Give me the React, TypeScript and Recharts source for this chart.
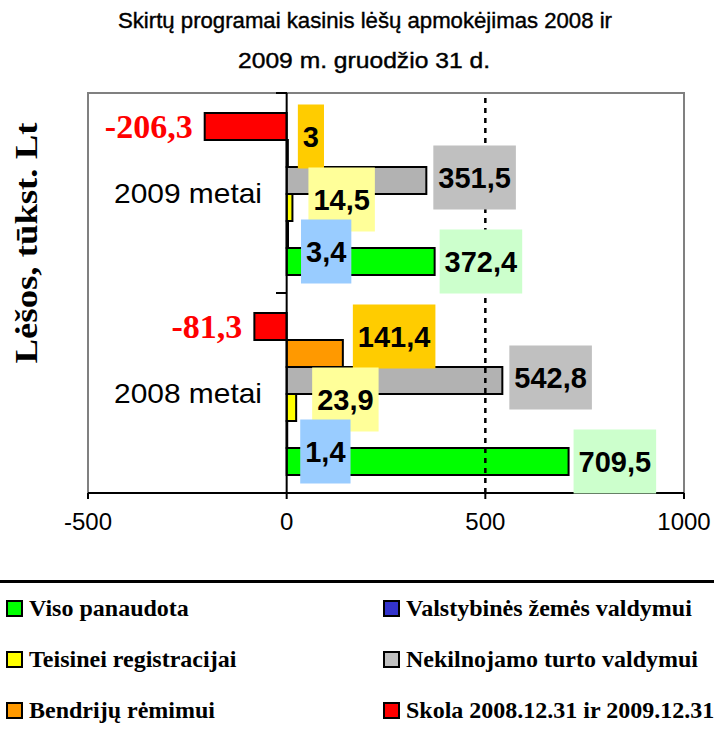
import React from 'react';
import {
  BarChart,
  Bar,
  XAxis,
  YAxis,
  ReferenceLine,
  ReferenceArea,
  LabelList,
} from 'recharts';

// categories, top to bottom
const categories = ['2009 metai', '2008 metai'];

// series values (tūkst. Lt), same order as categories
const visoPanaudota = [372.4, 709.5];
const valstybinesZemes = [3.4, 1.4];
const teisineiRegistracijai = [14.5, 23.9];
const nekilnojamoTurto = [351.5, 542.8];
const bendrijuRemimui = [3, 141.4];
const skola = [-206.3, -81.3];

const xTicks = [-500, 0, 500, 1000];

const chartTitle = [
  'Skirtų programai kasinis lėšų apmokėjimas 2008 ir',
  '2009 m. gruodžio 31 d.',
];
const yTitle = 'Lėšos, tūkst. Lt';

const data = categories.map((category, i) => ({
  category,
  viso: visoPanaudota[i],
  valst: valstybinesZemes[i],
  teis: teisineiRegistracijai[i],
  nekiln: nekilnojamoTurto[i],
  bendr: bendrijuRemimui[i],
  skola: skola[i],
}));

// legend order (as in the original workbook)
const legendItems = [
  { key: 'viso', name: 'Viso panaudota', color: '#00FF00' },
  { key: 'valst', name: 'Valstybinės žemės valdymui', color: '#3333CC' },
  { key: 'teis', name: 'Teisinei registracijai', color: '#FFFF00' },
  { key: 'nekiln', name: 'Nekilnojamo turto valdymui', color: '#C0C0C0' },
  { key: 'bendr', name: 'Bendrijų rėmimui', color: '#FF9900' },
  { key: 'skola', name: 'Skola 2008.12.31 ir 2009.12.31', color: '#FF0000' },
];

// bar order inside a band, top to bottom, with label styling
const barSeries = [
  { key: 'skola', fill: '#FF0000', labelBg: 'none', dx: -12, dy: 0 },
  { key: 'bendr', fill: '#FF9900', labelBg: '#FFCC00', dx: 10, dy: -17 },
  { key: 'nekiln', fill: '#B2B2B2', labelBg: '#C0C0C0', dx: 7, dy: -3 },
  { key: 'teis', fill: '#FFFF00', labelBg: '#FFFF99', dx: 16, dy: -8 },
  { key: 'valst', fill: '#3333CC', labelBg: '#99CCFF', dx: 13, dy: 17 },
  { key: 'viso', fill: '#00FF00', labelBg: '#CCFFCC', dx: 5, dy: 0 },
];

const SANS = '"Liberation Sans", Arial, sans-serif';
const SERIF = '"Liberation Serif", "Times New Roman", serif';

const fmt = (v: number) => String(v).replace('.', ',');

const textWidth = (s: string, size: number) =>
  s.split('').reduce((w, c) => w + (c === ',' ? 0.278 : c === '-' ? 0.333 : 0.556), 0) * size;

const makeLabel = (cfg: { labelBg: string; dx: number; dy: number }) => (props: any) => {
  const x = Number(props.x);
  const y = Number(props.y);
  const width = Number(props.width);
  const height = Number(props.height);
  const v = Number(props.value);
  const text = fmt(v);
  const cy = y + height / 2 + cfg.dy;
  if (v < 0) {
    const left = Math.min(x, x + width);
    return (
      <text
        x={left + cfg.dx}
        y={cy}
        dy='0.34em'
        textAnchor='end'
        fill='#FF0000'
        fontFamily={SERIF}
        fontWeight='bold'
        fontSize={34}
      >
        {text}
      </text>
    );
  }
  const end = Math.max(x, x + width);
  const w = textWidth(text, 29) + 10;
  const bx = end + cfg.dx;
  return (
    <g>
      <rect x={bx} y={cy - 32} width={w} height={64} fill={cfg.labelBg} />
      <text
        x={bx + w / 2}
        y={cy}
        dy='0.36em'
        textAnchor='middle'
        fill='#000'
        fontFamily={SANS}
        fontWeight='bold'
        fontSize={29}
      >
        {text}
      </text>
    </g>
  );
};

const CategoryTick = (props: any) => {
  const { x, y, payload, index } = props;
  return (
    <g>
      <text
        x={x + 174}
        y={y}
        dy='0.36em'
        textAnchor='end'
        fill='#000'
        fontFamily={SANS}
        fontSize={28}
        textLength={148}
        lengthAdjust='spacingAndGlyphs'
      >
        {payload.value}
      </text>
      <line x1={x + 188} x2={x + 199} y1={y - 100} y2={y - 100} stroke='#000' strokeWidth={2} />
      {index === categories.length - 1 && (
        <line x1={x + 188} x2={x + 199} y1={y + 100} y2={y + 100} stroke='#000' strokeWidth={2} />
      )}
    </g>
  );
};

const chartProps = {
  width: 714,
  height: 540,
  data,
  layout: 'vertical' as const,
  margin: { top: 93, right: 30, bottom: 0, left: 0 },
  barCategoryGap: '10%',
  barGap: 0,
};

const BarsChart = () => (
  <BarChart {...chartProps}>
    <ReferenceArea x1={-500} x2={1000} fill='none' stroke='#808080' strokeWidth={2} ifOverflow='visible' />
    <ReferenceLine x={500} stroke='#000' strokeWidth={2.5} strokeDasharray='5 5' />
    <XAxis
      type='number'
      domain={[-500, 1000]}
      ticks={xTicks}
      allowDataOverflow
      height={47}
      tickSize={6}
      tickMargin={14}
      axisLine={{ stroke: '#000', strokeWidth: 2 }}
      tickLine={{ stroke: '#000', strokeWidth: 2 }}
      tick={{ fill: '#000', fontSize: 24, fontFamily: SANS }}
    />
    <YAxis
      type='category'
      dataKey='category'
      width={88}
      tickSize={0}
      tickMargin={0}
      axisLine={false}
      tickLine={false}
      tick={<CategoryTick />}
    />
    <ReferenceLine x={0} stroke='#000' strokeWidth={2} />
    {barSeries.map((s) => (
      <Bar key={s.key} dataKey={s.key} fill={s.fill} stroke='#000' strokeWidth={2} isAnimationActive={false} />
    ))}
  </BarChart>
);

const LabelsChart = () => (
  <BarChart {...chartProps}>
    <XAxis type='number' domain={[-500, 1000]} ticks={xTicks} allowDataOverflow height={47} tick={false} axisLine={false} tickLine={false} />
    <YAxis type='category' dataKey='category' width={88} tick={false} axisLine={false} tickLine={false} />
    {barSeries.map((s) => (
      <Bar key={s.key} dataKey={s.key} fill='transparent' stroke='none' isAnimationActive={false}>
        <LabelList dataKey={s.key} content={makeLabel(s)} />
      </Bar>
    ))}
  </BarChart>
);

export default function App() {
  return (
    <div style={{ position: 'absolute', left: 0, top: 0, width: 714, height: 736, background: '#fff' }}>
      <svg width={714} height={540} style={{ position: 'absolute', left: 0, top: 0 }}>
        <text
          x={365}
          y={28}
          textAnchor='middle'
          fontFamily={SANS}
          fontSize={22}
          textLength={494}
          lengthAdjust='spacingAndGlyphs'
          stroke='#000'
          strokeWidth={0.4}
          fill='#000'
        >
          {chartTitle[0]}
        </text>
        <text
          x={364}
          y={68}
          textAnchor='middle'
          fontFamily={SANS}
          fontSize={22}
          textLength={252}
          lengthAdjust='spacingAndGlyphs'
          stroke='#000'
          strokeWidth={0.4}
          fill='#000'
        >
          {chartTitle[1]}
        </text>
        <text
          x={37}
          y={243}
          transform='rotate(-90 37 243)'
          textAnchor='middle'
          fontFamily={SERIF}
          fontWeight='bold'
          fontSize={32}
          textLength={241}
          lengthAdjust='spacingAndGlyphs'
          fill='#000'
        >
          {yTitle}
        </text>
      </svg>
      <div style={{ position: 'absolute', left: 0, top: 0 }}>
        <BarsChart />
      </div>
      <div style={{ position: 'absolute', left: 0, top: 0 }}>
        <LabelsChart />
      </div>
      <div style={{ position: 'absolute', left: 0, top: 580, width: 714, height: 3, background: '#000' }} />
      {legendItems.map((item, i) => {
        const col = i % 2;
        const row = Math.floor(i / 2);
        const cy = 608 + row * 51;
        return (
          <div
            key={item.key}
            style={{
              position: 'absolute',
              left: col === 0 ? 6 : 383,
              top: cy - 15,
              height: 30,
              display: 'flex',
              alignItems: 'center',
              fontFamily: SERIF,
              fontWeight: 'bold',
              fontSize: 24,
              whiteSpace: 'nowrap',
            }}
          >
            <span
              style={{
                display: 'inline-block',
                width: 13,
                height: 13,
                background: item.color,
                border: '2px solid #000',
                marginRight: 6,
              }}
            />
            {item.name}
          </div>
        );
      })}
    </div>
  );
}
